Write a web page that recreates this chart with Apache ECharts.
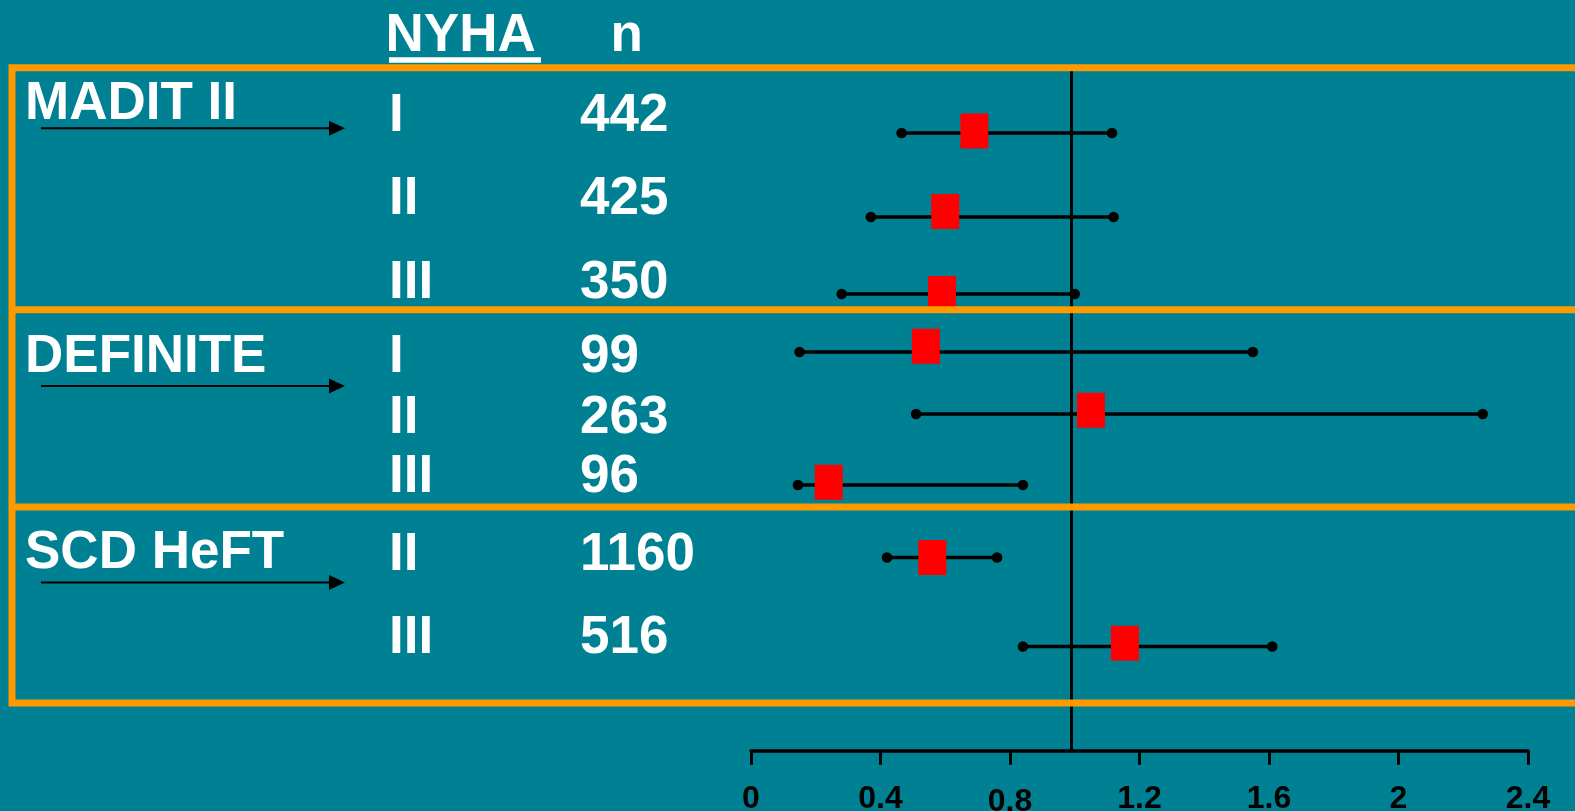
<!DOCTYPE html>
<html>
<head>
<meta charset="utf-8">
<title>ICD benefit by NYHA class</title>
<script src="https://cdn.jsdelivr.net/npm/echarts@6/dist/echarts.min.js"></script>
<style>
  html, body { margin: 0; padding: 0; background: #008193; }
  #chart { width: 1575px; height: 811px; }
</style>
</head>
<body>
<div id="chart"></div>
<script>
// ---- data ----
const trials = ['MADIT II', 'DEFINITE', 'SCD HeFT'];
const trialRows = [[0, 1, 2], [3, 4, 5], [6, 7]];
const nyhaClass = ['I', 'II', 'III', 'I', 'II', 'III', 'II', 'III'];
const sampleN = [442, 425, 350, 99, 263, 96, 1160, 516];
const hazardRatio = [0.69, 0.60, 0.59, 0.54, 1.05, 0.24, 0.56, 1.155];
const ciLower = [0.465, 0.37, 0.28, 0.15, 0.51, 0.145, 0.42, 0.84];
const ciUpper = [1.115, 1.12, 1.00, 1.55, 2.26, 0.84, 0.76, 1.61];
const tickLabels = ['0', '0.4', '0.8', '1.2', '1.6', '2', '2.4'];
const headers = ['NYHA', 'n'];
const refValue = 0.99;

// ---- layout & style ----
const BG = '#008193';
const ORANGE = '#FF9900';
const FONT_FAMILY = '"Liberation Sans", Arial, sans-serif';
const BIG = 'bold 53px ' + FONT_FAMILY;
const PLOT_LEFT = 751, PLOT_RIGHT = 47;
const X_MIN = 0, X_MAX = 2.4, X_STEP = 0.4;
const rowMarkY = [133, 217, 294, 352, 414, 485, 557.5, 646.5];
const squareLift = [2, 5.5, 0.5, 5.7, 3.7, 2.7, 0, 3.2];
const rowTextBase = [131.7, 215, 299, 373.3, 434.3, 492.7, 570.7, 654];
const trialTextBase = [120, 373.3, 569];
const arrowY = [128.3, 386, 582.5];
const panelTop = 67.7, panelBottom = 703, panelDividers = [309.7, 507];
const BASE_TO_MID = 15.6;

const chart = echarts.init(document.getElementById('chart'), null, { renderer: 'canvas' });

const grids = [{ left: PLOT_LEFT, right: PLOT_RIGHT, top: 71, bottom: 60.3, outerBoundsMode: 'none' }];
const xAxes = [{
  gridIndex: 0, type: 'value', min: X_MIN, max: X_MAX, interval: X_STEP,
  splitLine: { show: false },
  axisLine: { show: true, lineStyle: { color: '#000', width: 3.5 } },
  axisTick: { show: true, length: 14, lineStyle: { color: '#000', width: 3 } },
  axisLabel: {
    show: true, margin: 32, showMinLabel: true, showMaxLabel: true,
    formatter: function (v) {
      const i = Math.round(v / X_STEP);
      return (i === 2 ? '{low|' : '{n|') + tickLabels[i] + '}';
    },
    rich: {
      n: { fontSize: 32, fontWeight: 'bold', fontFamily: FONT_FAMILY, color: '#000', lineHeight: 32 },
      low: { fontSize: 32, fontWeight: 'bold', fontFamily: FONT_FAMILY, color: '#000', lineHeight: 38 }
    }
  }
}];
const yAxes = [{ gridIndex: 0, type: 'value', min: 0, max: 1, show: false }];

// vertical line of no effect, spanning the whole plot height
const series = [{
  type: 'custom', xAxisIndex: 0, yAxisIndex: 0, clip: false, z: 3,
  data: [[refValue, 0, 1]],
  encode: { x: 0, y: [1, 2] },
  renderItem: function (params, api) {
    const a = api.coord([api.value(0), api.value(1)]);
    const b = api.coord([api.value(0), api.value(2)]);
    return { type: 'line', shape: { x1: a[0], y1: a[1], x2: b[0], y2: b[1] },
             style: { stroke: '#000', lineWidth: 3 } };
  }
}];

// one thin grid per subgroup row: whisker with end dots and a red square estimate
nyhaClass.forEach(function (cls, i) {
  const gi = i + 1;
  const lift = squareLift[i];
  grids.push({ left: PLOT_LEFT, right: PLOT_RIGHT, top: rowMarkY[i] - 20, height: 40, outerBoundsMode: 'none' });
  xAxes.push({ gridIndex: gi, type: 'value', min: X_MIN, max: X_MAX, show: false });
  yAxes.push({ gridIndex: gi, type: 'category', data: [cls], show: false });
  series.push({
    type: 'custom', xAxisIndex: gi, yAxisIndex: gi, clip: false, z: 4,
    data: [[ciLower[i], ciUpper[i], hazardRatio[i], 0]],
    encode: { x: [0, 1, 2], y: 3 },
    renderItem: function (params, api) {
      const lo = api.coord([api.value(0), api.value(3)]);
      const hi = api.coord([api.value(1), api.value(3)]);
      const est = api.coord([api.value(2), api.value(3)]);
      const w = 28, h = 35;
      return {
        type: 'group',
        children: [
          { type: 'line', shape: { x1: lo[0], y1: lo[1], x2: hi[0], y2: hi[1] },
            style: { stroke: '#000', lineWidth: 3.5 } },
          { type: 'circle', shape: { cx: lo[0], cy: lo[1], r: 5.3 }, style: { fill: '#000' } },
          { type: 'circle', shape: { cx: hi[0], cy: hi[1], r: 5.3 }, style: { fill: '#000' } },
          { type: 'rect', shape: { x: est[0] - w / 2, y: est[1] - lift - h / 2, width: w, height: h },
            style: { fill: '#FF0000' } }
        ]
      };
    }
  });
});

// ---- table text, panels and arrows ----
function label(text, x, baseY) {
  return { type: 'text', x: x, y: baseY - BASE_TO_MID, z: 50,
           style: { text: text, font: BIG, fill: '#FFFFFF', align: 'left', verticalAlign: 'middle' } };
}
const graphics = [];
graphics.push(label(headers[0], 385.5, 52.3));
graphics.push(label(headers[1], 610.5, 52.3));
graphics.push({ type: 'rect', z: 50, shape: { x: 389, y: 57.3, width: 152, height: 5.4 }, style: { fill: '#FFFFFF' } });

trials.forEach(function (name, t) {
  graphics.push(label(name, 25, trialTextBase[t]));
  const y = arrowY[t];
  graphics.push({ type: 'line', z: 50, shape: { x1: 41, y1: y, x2: 332, y2: y }, style: { stroke: '#000', lineWidth: 2 } });
  graphics.push({ type: 'polygon', z: 50, shape: { points: [[345, y], [329, y - 7.5], [329, y + 7.5]] }, style: { fill: '#000' } });
  trialRows[t].forEach(function (r) {
    graphics.push(label(nyhaClass[r], 389, rowTextBase[r]));
    graphics.push(label(String(sampleN[r]), 580, rowTextBase[r]));
  });
});

graphics.push({ type: 'rect', z: 100,
  shape: { x: 12, y: panelTop, width: 1700, height: panelBottom - panelTop },
  style: { fill: null, stroke: ORANGE, lineWidth: 7 } });
panelDividers.forEach(function (y) {
  graphics.push({ type: 'line', z: 100, shape: { x1: 12, y1: y, x2: 1700, y2: y },
                  style: { stroke: ORANGE, lineWidth: 7 } });
});

chart.setOption({
  backgroundColor: BG,
  animation: false,
  grid: grids,
  xAxis: xAxes,
  yAxis: yAxes,
  series: series,
  graphic: graphics
});
</script>
</body>
</html>
